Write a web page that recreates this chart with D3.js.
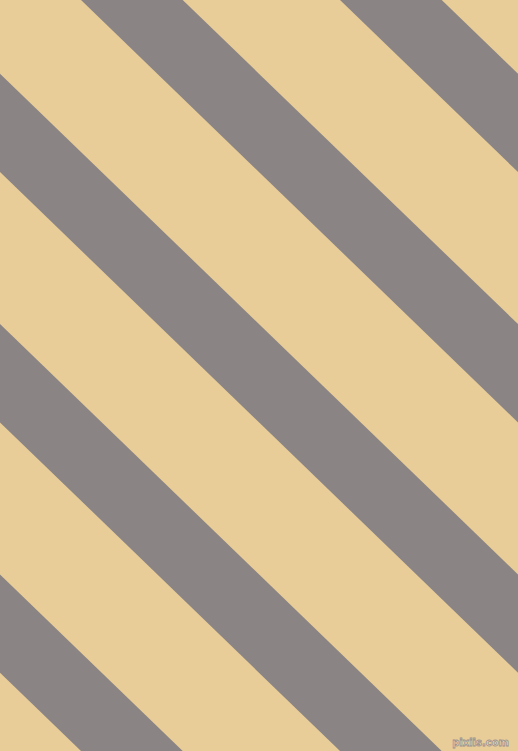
<!DOCTYPE html>
<html>
<head>
<meta charset="utf-8">
<script src="https://cdn.jsdelivr.net/npm/d3@7"></script>
<style>
  html, body { margin: 0; padding: 0; background: #e8cd98; }
  svg { display: block; }
</style>
</head>
<body>
<svg class="chart" width="518" height="751"></svg>
<script>
// stripe index (in periods), band share of the period, diagonal run per 751 rows (in periods)
var stripes = [-4, -3, -2, -1, 0, 1, 2];
var bandShare = [0.3927];
var runPerHeight = [3];
var watermark = ['pixiis.com'];

var width = 518;
var height = 751;
var backgroundColor = '#e8cd98';
var stripeColor = '#8a8485';

// period -> x position on the top row
var xScale = d3.scaleLinear().domain([0, 1]).range([81, 340]);
var yScale = d3.scaleLinear().domain([0, 1]).range([0, height]);

var svg = d3.select('.chart');

svg.append('rect')
    .attr('width', width)
    .attr('height', height)
    .style('fill', backgroundColor);

function stripePoints(k) {
    var w = bandShare[0];
    var run = runPerHeight[0];
    return [
        [xScale(k), yScale(0)],
        [xScale(k + w), yScale(0)],
        [xScale(k + w + run), yScale(1)],
        [xScale(k + run), yScale(1)]
    ];
}

svg.append('g')
    .attr('class', 'stripes')
    .selectAll('polygon')
    .data(stripes)
    .join('polygon')
    .attr('points', function(d) {
        return stripePoints(d).map(function(p) {
            return p.join(',');
        }).join(' ');
    })
    .style('fill', stripeColor);

svg.append('text')
    .attr('x', width - 9)
    .attr('y', height - 5)
    .style('text-anchor', 'end')
    .style('font-family', 'DejaVu Sans')
    .style('font-size', '10px')
    .style('font-weight', 'bold')
    .style('fill', '#f0dcb4')
    .style('stroke', '#9a9290')
    .style('stroke-width', 0.8)
    .text(watermark[0]);
</script>
</body>
</html>
